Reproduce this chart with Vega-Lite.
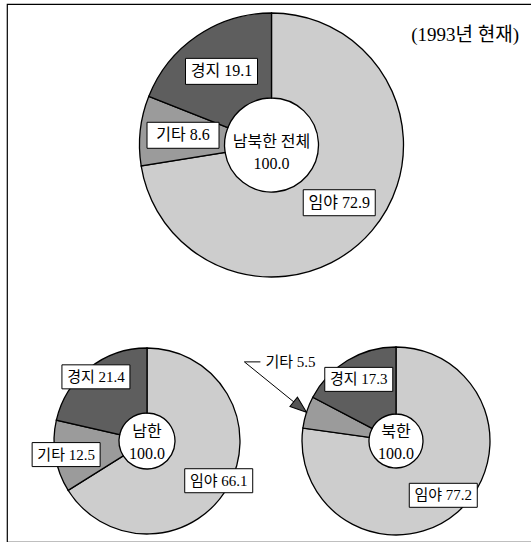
{
  "$schema": "https://vega.github.io/schema/vega-lite/v6.json",
  "width": 531,
  "height": 542,
  "autosize": {"type": "fit", "contains": "padding"},
  "padding": {"left": 7, "top": 4, "right": -2, "bottom": 0},
  "background": "white",
  "config": {
    "font": "Liberation Serif, Noto Sans CJK KR",
    "view": {"stroke": "black", "strokeWidth": 1.2},
    "text": {"font": "Liberation Serif, Noto Sans CJK KR", "color": "black"}
  },
  "title": {
    "text": "(1993년 현재)",
    "anchor": "end",
    "frame": "group",
    "orient": "top",
    "offset": -56,
    "dx": -14,
    "fontSize": 19,
    "fontWeight": "normal",
    "font": "Liberation Serif, Noto Sans CJK KR",
    "color": "black",
    "baseline": "alphabetic"
  },
  "datasets": {
    "land": [
      {"region": "남북한 전체", "level": "전체", "cat": "임야", "value": 72.9},
      {"region": "남북한 전체", "level": "전체", "cat": "기타", "value": 8.6},
      {"region": "남북한 전체", "level": "전체", "cat": "경지", "value": 19.1},
      {"region": "남한", "level": "지역", "cat": "임야", "value": 66.1},
      {"region": "남한", "level": "지역", "cat": "기타", "value": 12.5},
      {"region": "남한", "level": "지역", "cat": "경지", "value": 21.4},
      {"region": "북한", "level": "지역", "cat": "임야", "value": 77.2},
      {"region": "북한", "level": "지역", "cat": "기타", "value": 5.5},
      {"region": "북한", "level": "지역", "cat": "경지", "value": 17.3}
    ],
    "totals": [
      {"region": "남북한 전체", "level": "전체", "total": 100.0},
      {"region": "남한", "level": "지역", "total": 100.0},
      {"region": "북한", "level": "지역", "total": 100.0}
    ]
  },
  "data": {"name": "land"},
  "encoding": {
    "x": {"field": "region", "type": "nominal", "axis": null,
          "scale": {"type": "point", "domain": ["남한", "남북한 전체", "북한"], "range": [140, 389], "padding": 0}},
    "y": {"field": "level", "type": "nominal", "axis": null,
          "scale": {"type": "point", "domain": ["전체", "지역"], "range": [141, 437], "padding": 0}}
  },
  "layer": [
    {
      "transform": [{"filter": "datum.region === '남북한 전체'"}],
      "layer": [
        {
          "mark": {"type": "arc", "outerRadius": 132, "innerRadius": 47, "stroke": "black", "strokeWidth": 1.3},
          "encoding": {
            "theta": {"field": "value", "type": "quantitative", "stack": true},
            "color": {"field": "cat", "type": "nominal", "legend": null,
                      "scale": {"domain": ["임야", "기타", "경지"], "range": ["#cdcdcd", "#9b9b9b", "#5e5e5e"]}},
            "order": {"field": "cat", "sort": "descending"}
          }
        },
        {
          "transform": [
            {"window": [{"op": "sum", "field": "value", "as": "cum"}], "sort": [{"field": "cat", "order": "descending"}], "frame": [null, 0]},
            {"joinaggregate": [{"op": "sum", "field": "value", "as": "total"}]},
            {"calculate": "2*PI*(datum.cum-datum.value/2)/datum.total", "as": "mid"},
            {"calculate": "89*sin(datum.mid)", "as": "dx"},
            {"calculate": "-89*cos(datum.mid)", "as": "dy"},
            {"calculate": "datum.cat+' '+format(datum.value,'.1f')", "as": "label"}
          ],
          "encoding": {
            "xOffset": {"field": "dx", "type": "quantitative", "scale": null},
            "yOffset": {"field": "dy", "type": "quantitative", "scale": null}
          },
          "layer": [
            {"mark": {"type": "point", "shape": "M-1,-0.361H1V0.361H-1Z", "size": 5184, "filled": true, "fill": "white", "stroke": "black", "strokeWidth": 1, "opacity": 1}},
            {"mark": {"type": "text", "fontSize": 16}, "encoding": {"text": {"field": "label"}}}
          ]
        }
      ]
    },
    {
      "transform": [{"filter": "datum.region === '남한'"}],
      "layer": [
        {
          "mark": {"type": "arc", "outerRadius": 93, "innerRadius": 28, "stroke": "black", "strokeWidth": 1.3},
          "encoding": {
            "theta": {"field": "value", "type": "quantitative", "stack": true},
            "color": {"field": "cat", "type": "nominal", "legend": null,
                      "scale": {"domain": ["임야", "기타", "경지"], "range": ["#cdcdcd", "#9b9b9b", "#5e5e5e"]}},
            "order": {"field": "cat", "sort": "descending"}
          }
        },
        {
          "transform": [
            {"window": [{"op": "sum", "field": "value", "as": "cum"}], "sort": [{"field": "cat", "order": "descending"}], "frame": [null, 0]},
            {"joinaggregate": [{"op": "sum", "field": "value", "as": "total"}]},
            {"calculate": "2*PI*(datum.cum-datum.value/2)/datum.total", "as": "mid"},
            {"calculate": "82*sin(datum.mid)", "as": "dx"},
            {"calculate": "-82*cos(datum.mid)", "as": "dy"},
            {"calculate": "datum.cat+' '+format(datum.value,'.1f')", "as": "label"}
          ],
          "encoding": {
            "xOffset": {"field": "dx", "type": "quantitative", "scale": null},
            "yOffset": {"field": "dy", "type": "quantitative", "scale": null}
          },
          "layer": [
            {"mark": {"type": "point", "shape": "M-1,-0.353H1V0.353H-1Z", "size": 4624, "filled": true, "fill": "white", "stroke": "black", "strokeWidth": 1, "opacity": 1}},
            {"mark": {"type": "text", "fontSize": 15}, "encoding": {"text": {"field": "label"}}}
          ]
        }
      ]
    },
    {
      "transform": [{"filter": "datum.region === '북한'"}],
      "layer": [
        {
          "mark": {"type": "arc", "outerRadius": 94, "innerRadius": 27, "stroke": "black", "strokeWidth": 1.3},
          "encoding": {
            "theta": {"field": "value", "type": "quantitative", "stack": true},
            "color": {"field": "cat", "type": "nominal", "legend": null,
                      "scale": {"domain": ["임야", "기타", "경지"], "range": ["#cdcdcd", "#9b9b9b", "#5e5e5e"]}},
            "order": {"field": "cat", "sort": "descending"}
          }
        },
        {
          "transform": [
            {"window": [{"op": "sum", "field": "value", "as": "cum"}], "sort": [{"field": "cat", "order": "descending"}], "frame": [null, 0]},
            {"joinaggregate": [{"op": "sum", "field": "value", "as": "total"}]},
            {"calculate": "2*PI*(datum.cum-datum.value/2)/datum.total", "as": "mid"},
            {"filter": "datum.cat !== '기타'"},
            {"calculate": "72*sin(datum.mid)", "as": "dx"},
            {"calculate": "-72*cos(datum.mid)", "as": "dy"},
            {"calculate": "datum.cat+' '+format(datum.value,'.1f')", "as": "label"}
          ],
          "encoding": {
            "xOffset": {"field": "dx", "type": "quantitative", "scale": null},
            "yOffset": {"field": "dy", "type": "quantitative", "scale": null}
          },
          "layer": [
            {"mark": {"type": "point", "shape": "M-1,-0.353H1V0.353H-1Z", "size": 4624, "filled": true, "fill": "white", "stroke": "black", "strokeWidth": 1, "opacity": 1}},
            {"mark": {"type": "text", "fontSize": 15}, "encoding": {"text": {"field": "label"}}}
          ]
        },
        {
          "transform": [
            {"window": [{"op": "sum", "field": "value", "as": "cum"}], "sort": [{"field": "cat", "order": "descending"}], "frame": [null, 0]},
            {"joinaggregate": [{"op": "sum", "field": "value", "as": "total"}]},
            {"calculate": "2*PI*(datum.cum-datum.value/2)/datum.total", "as": "mid"},
            {"filter": "datum.cat === '기타'"},
            {"calculate": "94*sin(datum.mid)", "as": "tx"},
            {"calculate": "-94*cos(datum.mid)", "as": "ty"},
            {"calculate": "171*sin(datum.mid+0.17)", "as": "bx"},
            {"calculate": "-171*cos(datum.mid+0.17)", "as": "by"},
            {"calculate": "datum.cat+' '+format(datum.value,'.1f')", "as": "label"}
          ],
          "layer": [
            {
              "transform": [
                {"fold": ["tx", "bx", "by"], "as": ["key", "unused"]},
                {"calculate": "datum.key==='tx' ? datum.tx : (datum.key==='bx' ? datum.bx : datum.bx+16)", "as": "lx"},
                {"calculate": "datum.key==='tx' ? datum.ty : datum.by", "as": "ly"},
                {"calculate": "datum.key==='tx' ? 0 : (datum.key==='bx' ? 1 : 2)", "as": "seq"}
              ],
              "mark": {"type": "line", "stroke": "black", "strokeWidth": 1},
              "encoding": {
                "xOffset": {"field": "lx", "type": "quantitative", "scale": null},
                "yOffset": {"field": "ly", "type": "quantitative", "scale": null},
                "order": {"field": "seq", "type": "quantitative"}
              }
            },
            {
              "transform": [
                {"calculate": "atan2(datum.tx-datum.bx, -(datum.ty-datum.by))*180/PI", "as": "ang"}
              ],
              "mark": {"type": "point", "shape": "M0,0L-0.36,1L0.36,1Z", "size": 1089, "filled": true, "fill": "#555555", "stroke": "black", "strokeWidth": 1, "opacity": 1},
              "encoding": {
                "xOffset": {"field": "tx", "type": "quantitative", "scale": null},
                "yOffset": {"field": "ty", "type": "quantitative", "scale": null},
                "angle": {"field": "ang", "type": "quantitative", "scale": null}
              }
            },
            {
              "mark": {"type": "text", "fontSize": 15, "align": "left", "dx": 21},
              "encoding": {
                "xOffset": {"field": "bx", "type": "quantitative", "scale": null},
                "yOffset": {"field": "by", "type": "quantitative", "scale": null},
                "text": {"field": "label"}
              }
            }
          ]
        }
      ]
    },
    {
      "data": {"name": "totals"},
      "transform": [{"filter": "datum.level === '전체'"}],
      "layer": [
        {"mark": {"type": "text", "fontSize": 16, "dy": -3}, "encoding": {"text": {"field": "region"}}},
        {"mark": {"type": "text", "fontSize": 16, "dy": 19}, "encoding": {"text": {"field": "total", "type": "quantitative", "format": ".1f"}}}
      ]
    },
    {
      "data": {"name": "totals"},
      "transform": [{"filter": "datum.level === '지역'"}],
      "layer": [
        {"mark": {"type": "text", "fontSize": 16, "dy": -9}, "encoding": {"text": {"field": "region"}}},
        {"mark": {"type": "text", "fontSize": 16, "dy": 13}, "encoding": {"text": {"field": "total", "type": "quantitative", "format": ".1f"}}}
      ]
    }
  ],
  "resolve": {"scale": {"theta": "independent"}}
}
